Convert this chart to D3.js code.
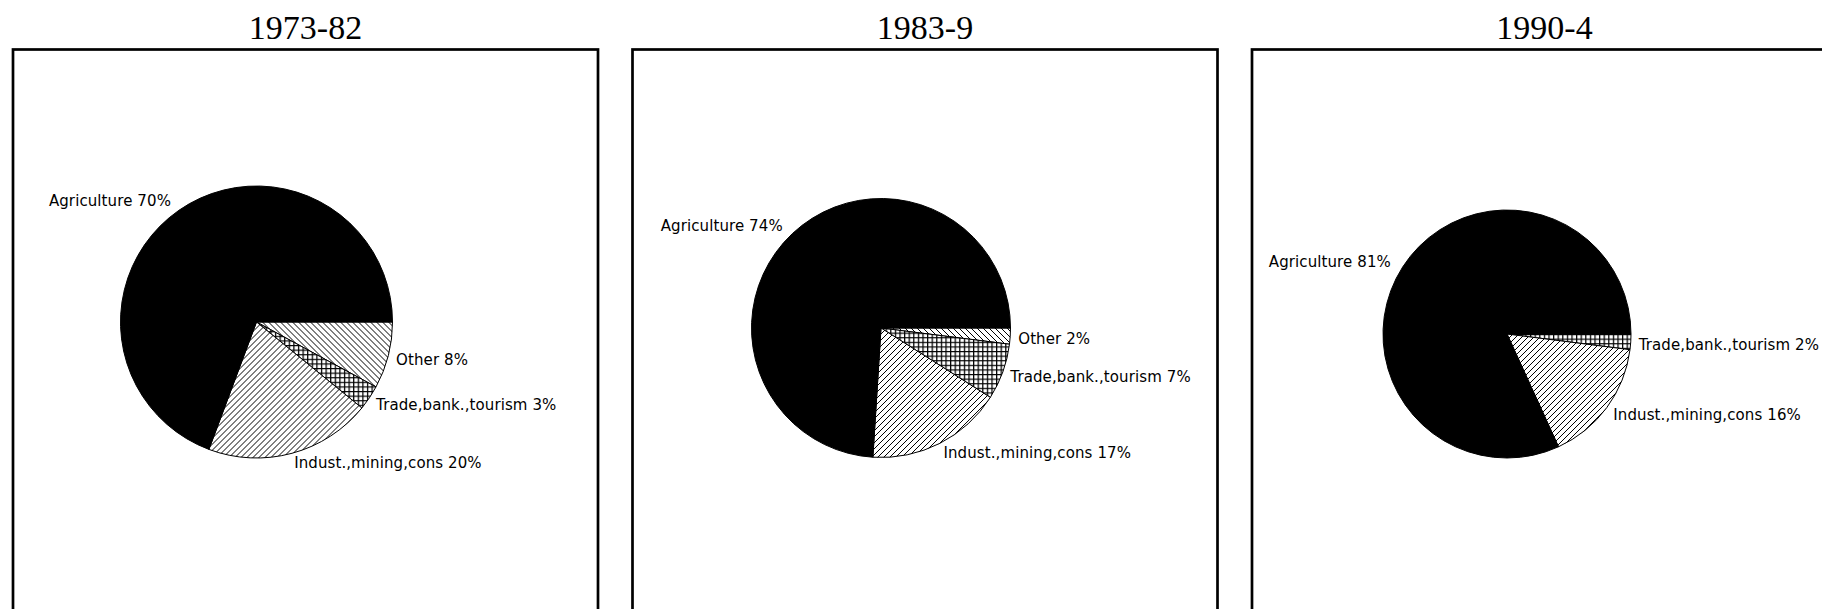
<!DOCTYPE html>
<html>
<head>
<meta charset="utf-8">
<script src="https://cdn.jsdelivr.net/npm/d3@7"></script>
<style>
  body { margin: 0; background: #fff; }
  svg { display: block; }
</style>
</head>
<body>
<div id="chart"></div>
<script>
// data
var periods = ["1973-82", "1983-9", "1990-4"];
var sectors = ["Other", "Trade,bank.,tourism", "Indust.,mining,cons", "Agriculture"];
var otherShare = [8, 2, 0];
var tradeShare = [3, 7, 2];
var industShare = [20, 17, 16];
var agriShare = [70, 74, 81];

// layout
var svgWidth = 1822;
var svgHeight = 609;
var panelLeft = 13;
var panelStep = 619.5;
var panelW = 585;
var panelTop = 49.5;
var pieCx = [256.5, 881, 1507];
var pieCy = [322, 328, 334];
var pieR = [136, 129.5, 124];
var fills = ["url(#hatchBack)", "url(#grid)", "url(#hatchFwd)", "#000"];

var svg = d3
  .select("#chart")
  .append("svg")
  .attr("width", svgWidth)
  .attr("height", svgHeight);

// hatch patterns
var defs = svg.append("defs");

var fwd = defs
  .append("pattern")
  .attr("id", "hatchFwd")
  .attr("patternUnits", "userSpaceOnUse")
  .attr("width", 6)
  .attr("height", 6);
fwd.append("rect").attr("width", 6).attr("height", 6).attr("fill", "#fff");
fwd
  .append("path")
  .attr("d", "M-1,1 L1,-1 M0,6 L6,0 M5,7 L7,5")
  .attr("stroke", "#000")
  .attr("stroke-width", 1);

var back = defs
  .append("pattern")
  .attr("id", "hatchBack")
  .attr("patternUnits", "userSpaceOnUse")
  .attr("width", 6)
  .attr("height", 6);
back.append("rect").attr("width", 6).attr("height", 6).attr("fill", "#fff");
back
  .append("path")
  .attr("d", "M-1,5 L1,7 M0,0 L6,6 M5,-1 L7,1")
  .attr("stroke", "#000")
  .attr("stroke-width", 1);

var grid = defs
  .append("pattern")
  .attr("id", "grid")
  .attr("patternUnits", "userSpaceOnUse")
  .attr("width", 4.6)
  .attr("height", 4.6);
grid.append("rect").attr("width", 4.6).attr("height", 4.6).attr("fill", "#fff");
grid
  .append("path")
  .attr("d", "M0,0.6 L4.6,0.6 M0.6,0 L0.6,4.6")
  .attr("stroke", "#000")
  .attr("stroke-width", 1.3);

var pie = d3
  .pie()
  .sort(null)
  .startAngle(Math.PI / 2)
  .endAngle(Math.PI / 2 + 2 * Math.PI);

function isLeft(d) {
  return Math.sin((d.startAngle + d.endAngle) / 2) < 0;
}

periods.forEach(function (period, i) {
  var x0 = panelLeft + i * panelStep;
  var values = [otherShare[i], tradeShare[i], industShare[i], agriShare[i]];
  var slices = pie(values)
    .map(function (d, k) {
      d.sector = sectors[k];
      d.k = k;
      return d;
    })
    .filter((d) => d.value > 0);

  // title
  svg
    .append("text")
    .attr("x", x0 + panelW / 2)
    .attr("y", 39)
    .style("text-anchor", "middle")
    .style("font-family", "'Liberation Serif', 'Times New Roman', serif")
    .style("font-size", "34px")
    .attr("fill", "#000")
    .text(period);

  // frame (bottom edge runs off the page, as in the original)
  svg
    .append("rect")
    .attr("x", x0)
    .attr("y", panelTop)
    .attr("width", panelW)
    .attr("height", 700)
    .attr("fill", "none")
    .attr("stroke", "#000")
    .attr("stroke-width", 2.7);

  var g = svg
    .append("g")
    .attr("transform", `translate(${pieCx[i]}, ${pieCy[i]})`);

  var arc = d3.arc().innerRadius(0).outerRadius(pieR[i]);
  var rightArc = d3.arc().innerRadius(pieR[i] + 8).outerRadius(pieR[i] + 8);
  var leftArc = d3.arc().innerRadius(pieR[i] + 14).outerRadius(pieR[i] + 14);

  g.selectAll("path.slice")
    .data(slices)
    .enter()
    .append("path")
    .attr("class", "slice")
    .attr("d", arc)
    .attr("fill", (d) => fills[d.k])
    .attr("stroke", "#000")
    .attr("stroke-width", 1);

  g.selectAll("text.lbl")
    .data(slices)
    .enter()
    .append("text")
    .attr("class", "lbl")
    .attr("transform", function (d) {
      var c = isLeft(d) ? leftArc.centroid(d) : rightArc.centroid(d);
      return `translate(${c})`;
    })
    .attr("dy", "0.5em")
    .style("text-anchor", (d) => (isLeft(d) ? "end" : "start"))
    .style("font-family", "'DejaVu Sans', sans-serif")
    .style("font-size", "15px")
    .style("letter-spacing", "0.1px")
    .attr("fill", "#000")
    .text((d) => `${d.sector} ${d.value}%`);
});
</script>
</body>
</html>
